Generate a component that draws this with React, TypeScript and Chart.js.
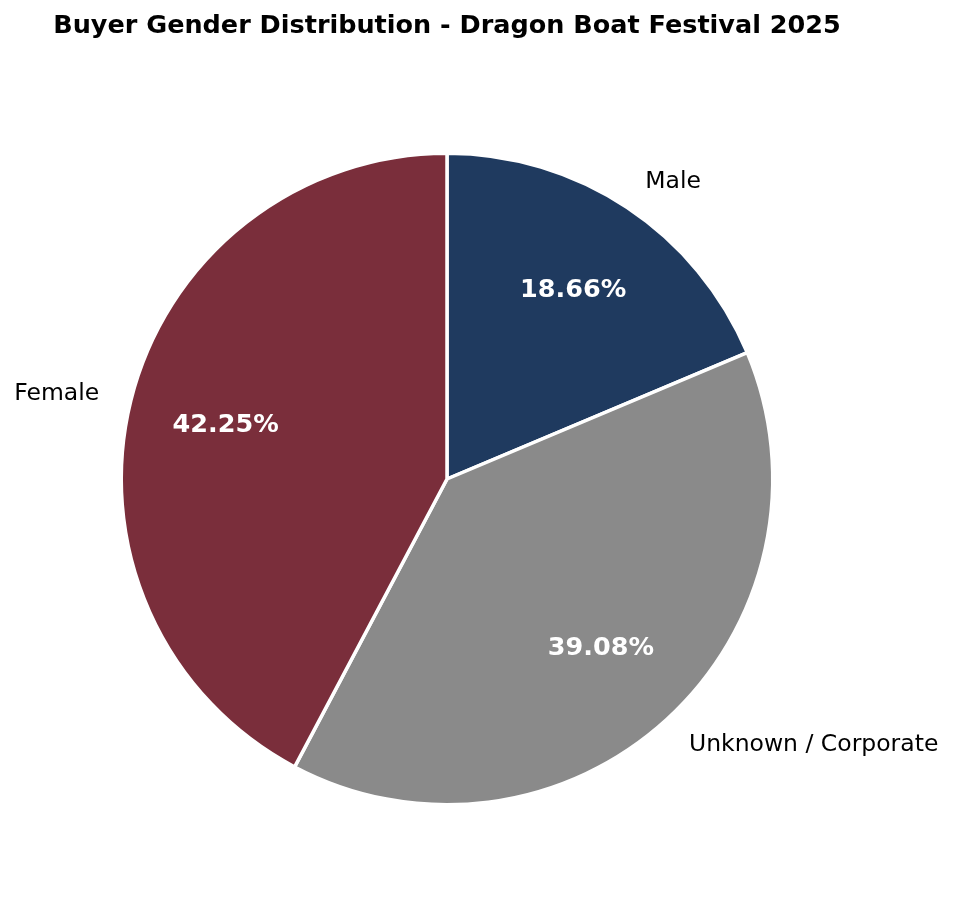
import React, { useEffect, useRef } from "react";
import { Chart, registerables } from "chart.js";

Chart.register(...registerables);

const TITLE = "Buyer Gender Distribution - Dragon Boat Festival 2025";
const categories = ["Male", "Unknown / Corporate", "Female"];
const values = [18.66, 39.08, 42.25];
const colors = ["#1f3a5f", "#8a8a8a", "#7a2e3b"];

const W = 953;
const H = 901;

const labelPlugin = {
  id: "pieLabels",
  afterDatasetsDraw(chart: any) {
    const ctx = chart.ctx;
    const meta = chart.getDatasetMeta(0);
    const total = values.reduce((a, b) => a + b, 0);
    ctx.save();
    meta.data.forEach((arc: any, i: number) => {
      const { x, y, startAngle, endAngle, outerRadius } = arc.getProps(
        ["x", "y", "startAngle", "endAngle", "outerRadius"],
        true
      );
      const mid = (startAngle + endAngle) / 2;
      const cos = Math.cos(mid);
      const sin = Math.sin(mid);
      const pr = outerRadius * 0.7;
      ctx.fillStyle = "#ffffff";
      ctx.font = "bold 25.5px 'DejaVu Sans'";
      ctx.textAlign = "center";
      ctx.textBaseline = "middle";
      const pct = ((values[i] / total) * 100).toFixed(2) + "%";
      ctx.fillText(pct, x + cos * pr, y + sin * pr + 1);
      const lr = outerRadius * 1.1;
      ctx.fillStyle = "#000000";
      ctx.font = "23.5px 'DejaVu Sans'";
      ctx.textAlign = cos >= 0 ? "left" : "right";
      ctx.fillText(categories[i], x + cos * lr, y + sin * lr + 1.5);
    });
    ctx.fillStyle = "#000000";
    ctx.font = "bold 25.5px 'DejaVu Sans'";
    ctx.textAlign = "center";
    ctx.textBaseline = "middle";
    const cx = (chart.chartArea.left + chart.chartArea.right) / 2;
    ctx.fillText(TITLE, cx, 26.5);
    ctx.restore();
  },
};

export default function App() {
  const ref = useRef<HTMLCanvasElement | null>(null);
  useEffect(() => {
    document.body.style.margin = "0";
    if (!ref.current) return;
    const chart = new Chart(ref.current, {
      type: "pie",
      data: {
        labels: categories,
        datasets: [
          {
            data: values,
            backgroundColor: colors,
            borderColor: "#ffffff",
            borderWidth: 3.5,
          },
        ],
      },
      options: {
        animation: false,
        responsive: false,
        maintainAspectRatio: false,
        layout: { padding: { left: 119.5, right: 178.5, top: 151.5, bottom: 94.5 } },
        plugins: {
          legend: { display: false },
          title: { display: false },
          tooltip: { enabled: false },
        },
      },
      plugins: [labelPlugin],
    });
    return () => chart.destroy();
  }, []);
  return (
    <div style={{ width: W, height: H, background: "#fff" }}>
      <canvas ref={ref} width={W} height={H} style={{ width: W, height: H, display: "block" }} />
    </div>
  );
}
